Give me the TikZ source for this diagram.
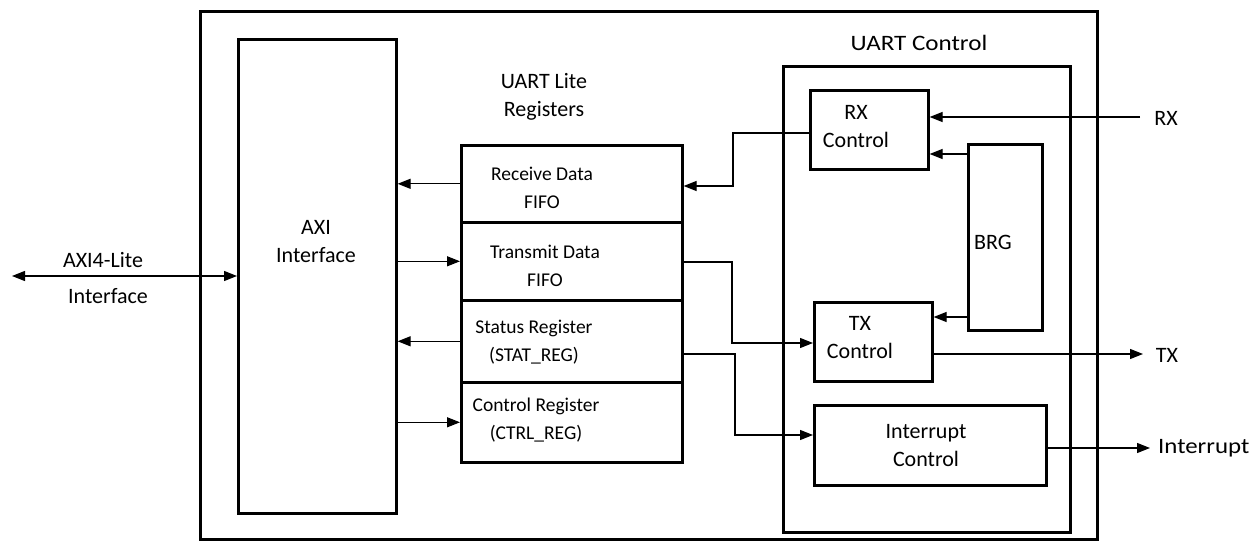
\documentclass[tikz,border=0pt]{standalone}
\usepackage{fontspec}
\setmainfont{Carlito}
\usetikzlibrary{arrows.meta}
\begin{document}
\begin{tikzpicture}[x=1pt,y=-1pt,
  box/.style={draw, line width=2.6pt, inner sep=0pt, anchor=north west},
  big/.style={font=\fontsize{22}{28}\selectfont, align=center, inner sep=0pt},
  reg/.style={font=\fontsize{19.5}{28}\selectfont, align=center, inner sep=0pt},
  arr/.style={line width=1.2pt, -{Triangle[length=13pt,width=10pt]}},
  dbl/.style={line width=1.2pt, {Triangle[length=13pt,width=10pt]}-{Triangle[length=13pt,width=10pt]}},
  wire/.style={line width=1.2pt}]
\useasboundingbox (0,0) rectangle (1253,551);
% boxes
\node[box, minimum width=897pt, minimum height=528pt] (outer) at (199,10) {};
\node[box, minimum width=158pt, minimum height=474pt] (axi) at (237,38) {};
\node[box, minimum width=221pt, minimum height=77pt] (rd) at (460,144) {};
\node[box, minimum width=221pt, minimum height=78pt] (td) at (460,221) {};
\node[box, minimum width=221pt, minimum height=82pt] (sr) at (460,299) {};
\node[box, minimum width=221pt, minimum height=80pt] (cr) at (460,381) {};
\node[box, minimum width=287pt, minimum height=466pt] (uc) at (782,65) {};
\node[box, minimum width=118pt, minimum height=79pt] (rxc) at (809,89) {};
\node[box, minimum width=74pt, minimum height=186pt] (brg) at (967,143) {};
\node[box, minimum width=118pt, minimum height=79pt] (txc) at (813,301) {};
\node[box, minimum width=232pt, minimum height=80pt] (intc) at (813,404) {};
% labels
\node[big] (axil) at (316,242) {AXI\\Interface};
\node[big] (regl) at (544,97) {UART Lite\\Registers};
\node[big] (ucl) at (919,43) {\scalebox{1.14}[1]{UART Control}};
\node[big] (rxl) at (856,127) {RX\\Control};
\node[big] (brgl) at (993,242) {BRG};
\node[big] (txl) at (860,338) {TX\\Control};
\node[big] (intl) at (926,446) {Interrupt\\Control};
\node[reg] (rdl) at (542,188) {Receive Data\\FIFO};
\node[reg] (tdl) at (545,266) {Transmit Data\\FIFO};
\node[reg] (srl) at (534,342) {Status Register\\(STAT\_REG)};
\node[reg] (crl) at (536,420) {Control Register\\(CTRL\_REG)};
\node[big] (rxt) at (1166,118) {RX};
\node[big] (txt) at (1167,355) {TX};
\node[big, anchor=west] (intt) at (1158,448) {\scalebox{1.13}[1]{Interrupt}};
\node[big] (axt1) at (103,260) {AXI4-Lite};
\node[big] (axt2) at (108,296) {Interface};
% free ends
\coordinate (axiin) at (12,276);
\coordinate (rxin) at (1140,117);
\coordinate (txout) at (1143,354);
\coordinate (intout) at (1150,448);
% connectors
\draw[dbl] (axiin) -- (axi.west |- axiin);
\draw[arr] (rd.west) -- (axi.east |- rd.west);
\draw[arr] (axi.east |- td.west) -- (td.west);
\draw[arr] (sr.west) -- (axi.east |- sr.west);
\draw[arr] (axi.east |- cr.west) -- (cr.west);
\draw[arr] (rxin) -- (rxc.east |- rxin);
\draw[arr] (brg.west |- {(0,154)}) -- (rxc.east |- {(0,154)});
\draw[arr] (brg.west |- {(0,317)}) -- (txc.east |- {(0,317)});
\draw[arr] (rxc.west |- {(0,133)}) -| (733,186) -- (rd.east |- {(0,186)});
\draw[arr] (td.east |- {(0,262)}) -| (732,343) -- (txc.west |- {(0,343)});
\draw[arr] (sr.east |- {(0,354)}) -| (735,435) -- (intc.west |- {(0,435)});
\draw[arr] (txc.east |- txout) -- (txout);
\draw[arr] (intc.east |- intout) -- (intout);
\end{tikzpicture}
\end{document}
